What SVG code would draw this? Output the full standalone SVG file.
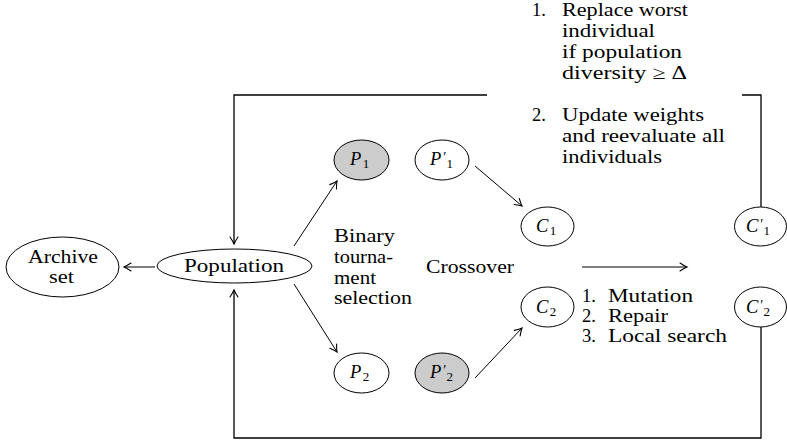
<svg xmlns="http://www.w3.org/2000/svg" width="787" height="442" viewBox="0 0 787 442">
<style>
text{font-family:"Liberation Serif","Times New Roman",serif;font-size:18.5px;fill:#000}
.m{font-style:italic}
.s{font-size:13px;font-style:normal}
.pr{font-size:14px;font-style:normal}
.e{fill:#fff;stroke:#000;stroke-width:1}
.g{fill:#cccccc;stroke:#000;stroke-width:1}
.c{fill:none;stroke:#000;stroke-width:1}
.loop{fill:none;stroke:#000;stroke-width:1.3}
</style>
<defs>
<marker id="ah" markerUnits="userSpaceOnUse" markerWidth="14" markerHeight="14" viewBox="-9 -7 14 14" refX="0" refY="0" orient="auto">
<path d="M -7 -4 Q -2.5 -1 0 0 Q -2.5 1 -7 4" fill="none" stroke="#000" stroke-width="1.1" stroke-linecap="round"/>
</marker>
</defs>
<g id="connectors">
<path class="loop" d="M 487 95 H 234 V 244" marker-end="url(#ah)"/>
<path class="loop" d="M 742 95 H 761 V 207"/>
<path class="loop" d="M 761 327 V 438 H 234 V 290" marker-end="url(#ah)"/>
<line class="c" x1="155" y1="267" x2="124" y2="267" marker-end="url(#ah)"/>
<line class="c" x1="294" y1="246" x2="337" y2="181" marker-end="url(#ah)"/>
<line class="c" x1="294" y1="284" x2="337" y2="352" marker-end="url(#ah)"/>
<line class="c" x1="475" y1="166" x2="522" y2="206" marker-end="url(#ah)"/>
<line class="c" x1="475" y1="378" x2="522" y2="328" marker-end="url(#ah)"/>
<line class="c" x1="582" y1="267" x2="687" y2="267" marker-end="url(#ah)"/>
</g>
<g id="archive">
<ellipse class="e" cx="62.5" cy="267" rx="56.5" ry="30"/>
<text x="28" y="263" textLength="70" lengthAdjust="spacingAndGlyphs">Archive</text>
<text x="49" y="283" textLength="25" lengthAdjust="spacingAndGlyphs">set</text>
</g>
<g id="population">
<ellipse class="e" cx="234.5" cy="266" rx="77.5" ry="17"/>
<text x="184" y="272" textLength="100" lengthAdjust="spacingAndGlyphs">Population</text>
</g>
<g id="P1">
<ellipse class="g" cx="361.5" cy="160" rx="27.5" ry="20"/>
<text class="m" x="350" y="165">P<tspan class="s" dx="1.5" dy="3">1</tspan></text>
</g>
<g id="P1prime">
<ellipse class="e" cx="442" cy="160" rx="27" ry="20"/>
<text class="m" x="430" y="165">P<tspan class="pr" dx="2" dy="-3">′</tspan><tspan class="s" dy="6">1</tspan></text>
</g>
<g id="P2">
<ellipse class="e" cx="361.5" cy="373" rx="27.5" ry="20"/>
<text class="m" x="350" y="378">P<tspan class="s" dx="1.5" dy="3">2</tspan></text>
</g>
<g id="P2prime">
<ellipse class="g" cx="442" cy="373" rx="27" ry="20"/>
<text class="m" x="430" y="378">P<tspan class="pr" dx="2" dy="-3">′</tspan><tspan class="s" dy="6">2</tspan></text>
</g>
<g id="C1">
<ellipse class="e" cx="547.5" cy="226.5" rx="26.5" ry="19.5"/>
<text class="m" x="536" y="232">C<tspan class="s" dx="1.5" dy="3">1</tspan></text>
</g>
<g id="C2">
<ellipse class="e" cx="547.5" cy="307" rx="26.5" ry="20"/>
<text class="m" x="536" y="312.5">C<tspan class="s" dx="1.5" dy="3">2</tspan></text>
</g>
<g id="C1prime">
<ellipse class="e" cx="760.5" cy="226.5" rx="26" ry="19.5"/>
<text class="m" x="746" y="232">C<tspan class="pr" dx="2" dy="-3">′</tspan><tspan class="s" dy="6">1</tspan></text>
</g>
<g id="C2prime">
<ellipse class="e" cx="760.5" cy="307" rx="26" ry="20"/>
<text class="m" x="746" y="312.5">C<tspan class="pr" dx="2" dy="-3">′</tspan><tspan class="s" dy="6">2</tspan></text>
</g>
<g id="labels">
<text x="334" y="242" textLength="61" lengthAdjust="spacingAndGlyphs">Binary</text>
<text x="334" y="263" textLength="59" lengthAdjust="spacingAndGlyphs">tourna-</text>
<text x="334" y="284" textLength="42" lengthAdjust="spacingAndGlyphs">ment</text>
<text x="334" y="304" textLength="78" lengthAdjust="spacingAndGlyphs">selection</text>
<text x="426" y="273" textLength="88" lengthAdjust="spacingAndGlyphs">Crossover</text>
<text x="582" y="302">1.</text><text x="608" y="302" textLength="85" lengthAdjust="spacingAndGlyphs">Mutation</text>
<text x="582" y="322">2.</text><text x="608" y="322" textLength="60" lengthAdjust="spacingAndGlyphs">Repair</text>
<text x="582" y="342">3.</text><text x="608" y="342" textLength="119" lengthAdjust="spacingAndGlyphs">Local search</text>
<text x="532" y="16">1.</text><text x="562" y="16" textLength="126" lengthAdjust="spacingAndGlyphs">Replace worst</text>
<text x="562" y="37" textLength="93" lengthAdjust="spacingAndGlyphs">individual</text>
<text x="562" y="58" textLength="120" lengthAdjust="spacingAndGlyphs">if population</text>
<text x="562" y="79" textLength="125" lengthAdjust="spacingAndGlyphs">diversity ≥ Δ</text>
<text x="532" y="121">2.</text><text x="562" y="121" textLength="142" lengthAdjust="spacingAndGlyphs">Update weights</text>
<text x="562" y="142" textLength="163" lengthAdjust="spacingAndGlyphs">and reevaluate all</text>
<text x="562" y="163" textLength="100" lengthAdjust="spacingAndGlyphs">individuals</text>
</g>
</svg>
